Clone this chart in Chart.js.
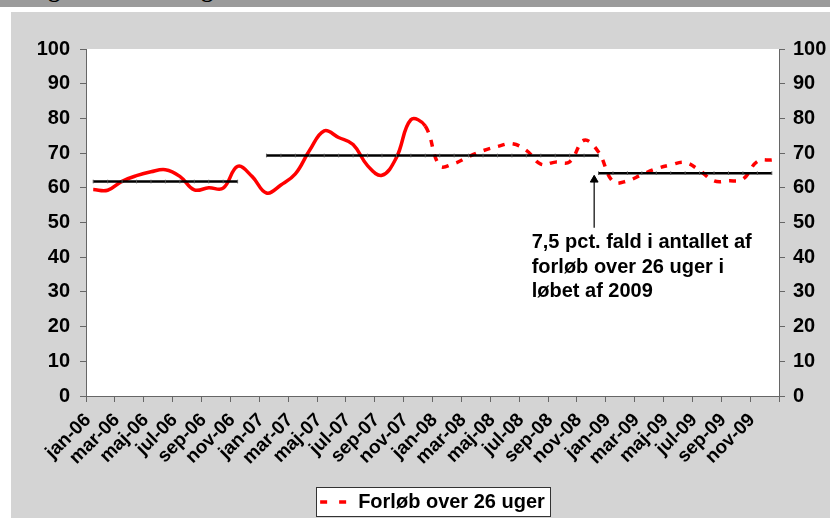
<!DOCTYPE html>
<html lang="da">
<head>
<meta charset="utf-8">
<title>Forløb over 26 uger</title>
<script src="https://cdn.jsdelivr.net/npm/chart.js@4.4.1/dist/chart.umd.min.js"></script>
<style>
  html, body { margin: 0; padding: 0; background: #fff; }
  body { width: 830px; height: 518px; position: relative; overflow: hidden; }
  #topbar { position: absolute; left: 0; top: 0; width: 830px; height: 7px; background: #9b9b9b; overflow: hidden; }
  #topbar span { position: absolute; left: 27px; top: -23px; font: bold 24px/24px "Liberation Serif", "Times New Roman", serif; color: #000; white-space: nowrap; }
  #panel { position: absolute; left: 11px; top: 12px; width: 819px; height: 506px; background: #d4d4d4; }
</style>
</head>
<body>
<div id="topbar"><span>Figur 2. Forløb og fald</span></div>
<div id="panel"><canvas id="chart" width="819" height="506"></canvas></div>
<script>
const FONT = '"Liberation Sans", Arial, sans-serif';

// Tekst under x-aksen (hver anden måned)
const tickLabels = [
    'jan-06', 'mar-06', 'maj-06', 'jul-06', 'sep-06', 'nov-06',
    'jan-07', 'mar-07', 'maj-07', 'jul-07', 'sep-07', 'nov-07',
    'jan-08', 'mar-08', 'maj-08', 'jul-08', 'sep-08', 'nov-08',
    'jan-09', 'mar-09', 'maj-09', 'jul-09', 'sep-09', 'nov-09'
];

// Forløb over 26 uger, en værdi pr. måned jan-06 .. dec-09 (aflæst)
const forloeb = [
    59.5, 59.3, 61.9, 63.5, 64.6, 65.2, 63.3, 59.4, 60.0, 59.9, 66.2, 63.3,
    58.5, 60.8, 64.0, 70.9, 76.4, 74.5, 72.5, 66.4, 63.6, 68.7, 79.6, 77.8,
    66.4, 67.0, 69.0, 70.7, 71.9, 72.7, 70.8, 66.8, 67.4, 67.5, 73.7, 70.3,
    61.8, 62.0, 63.8, 65.5, 66.6, 67.3, 65.0, 62.0, 62.0, 62.5, 67.6, 68.0
];
const DASH_FROM = 23; // fra dec-07 vises kurven stiplet

// Gennemsnitsniveauer (vandrette streger)
const avgLevel = [61.8, 69.3, 64.2];
const avgFrom = [0, 12, 35];
const avgTo = [10, 35, 47];

// Pil og tekst
const arrowX = 35.2;
const arrowY = [48.5, 62.3];
const noteX = 30.87;
const noteY = 42.6;
const noteLines = ['7,5 pct. fald i antallet af', 'forløb over 26 uger i', 'løbet af 2009'];

const mainPoints = forloeb.map((v, i) => ({ x: i + 0.5, y: v }));

const avgSets = avgLevel.map((lvl, k) => {
    const pts = [];
    for (let i = avgFrom[k]; i <= avgTo[k]; i++) pts.push({ x: i + 0.5, y: lvl });
    return {
        label: 'niveau ' + (k + 1),
        data: pts,
        borderColor: '#000',
        borderWidth: 2.5,
        tension: 0,
        pointStyle: 'line',
        rotation: 90,
        pointRadius: 1.8,
        pointBorderWidth: 1,
        pointBorderColor: '#555',
        order: 1
    };
});

// hvid plotflade + ramme om forklaringen
const frames = {
    id: 'frames',
    beforeDraw(chart) {
        const { ctx, chartArea: a } = chart;
        ctx.save();
        ctx.fillStyle = '#fff';
        ctx.fillRect(a.left, a.top, a.right - a.left, a.bottom - a.top);
        const hb = chart.legend && chart.legend.legendHitBoxes[0];
        if (hb) {
            const x = Math.round(hb.left - 4) + 0.5;
            const y = Math.round(hb.top - 5) + 0.5;
            const w = Math.round(hb.width + 9);
            ctx.fillRect(x, y, w, 29);
            ctx.strokeStyle = '#333';
            ctx.lineWidth = 1;
            ctx.strokeRect(x, y, w, 29);
        }
        ctx.restore();
    }
};

const note = {
    id: 'note',
    afterDatasetsDraw(chart) {
        const { ctx, scales } = chart;
        const x = scales.x.getPixelForValue(noteX);
        const y = scales.y.getPixelForValue(noteY);
        ctx.save();
        ctx.fillStyle = '#000';
        ctx.font = 'bold 20px ' + FONT;
        ctx.textAlign = 'left';
        ctx.textBaseline = 'alphabetic';
        noteLines.forEach((t, i) => ctx.fillText(t, x, y + i * 24.6));
        ctx.restore();
    }
};

const yAxis = (pos, width, pad) => ({
    position: pos,
    min: 0,
    max: 100,
    ticks: { stepSize: 10, color: '#000', padding: pad, font: { family: FONT, size: 20, weight: 'bold' } },
    grid: { drawOnChartArea: false, tickLength: 6, color: '#666' },
    border: { display: true, color: '#666' },
    afterFit: s => { s.width = width; }
});

new Chart(document.getElementById('chart'), {
    type: 'line',
    data: {
        datasets: [
            {
                label: 'Forløb over 26 uger',
                data: mainPoints,
                borderColor: '#ff0000',
                borderWidth: 3.5,
                tension: 0.4,
                pointRadius: 0,
                order: 2,
                segment: { borderDash: c => (c.p0DataIndex >= DASH_FROM ? [7, 8] : []) }
            },
            ...avgSets,
            {
                label: 'pil',
                data: [{ x: arrowX, y: arrowY[0] }, { x: arrowX, y: arrowY[1] }],
                borderColor: '#333',
                borderWidth: 1.5,
                pointStyle: 'triangle',
                pointRadius: [0, 4.5],
                pointBackgroundColor: '#000',
                pointBorderColor: '#000',
                pointBorderWidth: 1,
                order: 0
            }
        ]
    },
    options: {
        responsive: false,
        animation: false,
        layout: { padding: { top: 37, left: 0, right: 0, bottom: -4 } },
        plugins: {
            tooltip: { enabled: false },
            legend: {
                position: 'bottom',
                fullSize: false,
                labels: {
                    color: '#000',
                    font: { family: FONT, size: 20, weight: 'bold' },
                    usePointStyle: true,
                    pointStyleWidth: 28,
                    boxHeight: 20,
                    padding: 6,
                    generateLabels: chart => [{
                        text: chart.data.datasets[0].label,
                        strokeStyle: '#ff0000',
                        fillStyle: '#ff0000',
                        lineWidth: 3.5,
                        lineDash: [7, 12],
                        pointStyle: 'line',
                        datasetIndex: 0,
                        hidden: false
                    }]
                }
            }
        },
        scales: {
            x: {
                type: 'linear',
                min: 0,
                max: 48,
                ticks: {
                    stepSize: 2,
                    autoSkip: false,
                    minRotation: 45,
                    maxRotation: 45,
                    labelOffset: 2,
                    padding: 7,
                    color: '#000',
                    font: { family: FONT, size: 19, weight: 'bold' },
                    callback: v => tickLabels[v / 2] || ''
                },
                grid: { drawOnChartArea: false, tickLength: 6, color: '#666' },
                border: { display: true, color: '#666' },
                afterFit: s => { s.height = 90; }
            },
            y: yAxis('left', 75, 10),
            y2: yAxis('right', 51, 8)
        }
    },
    plugins: [frames, note]
});
</script>
</body>
</html>
